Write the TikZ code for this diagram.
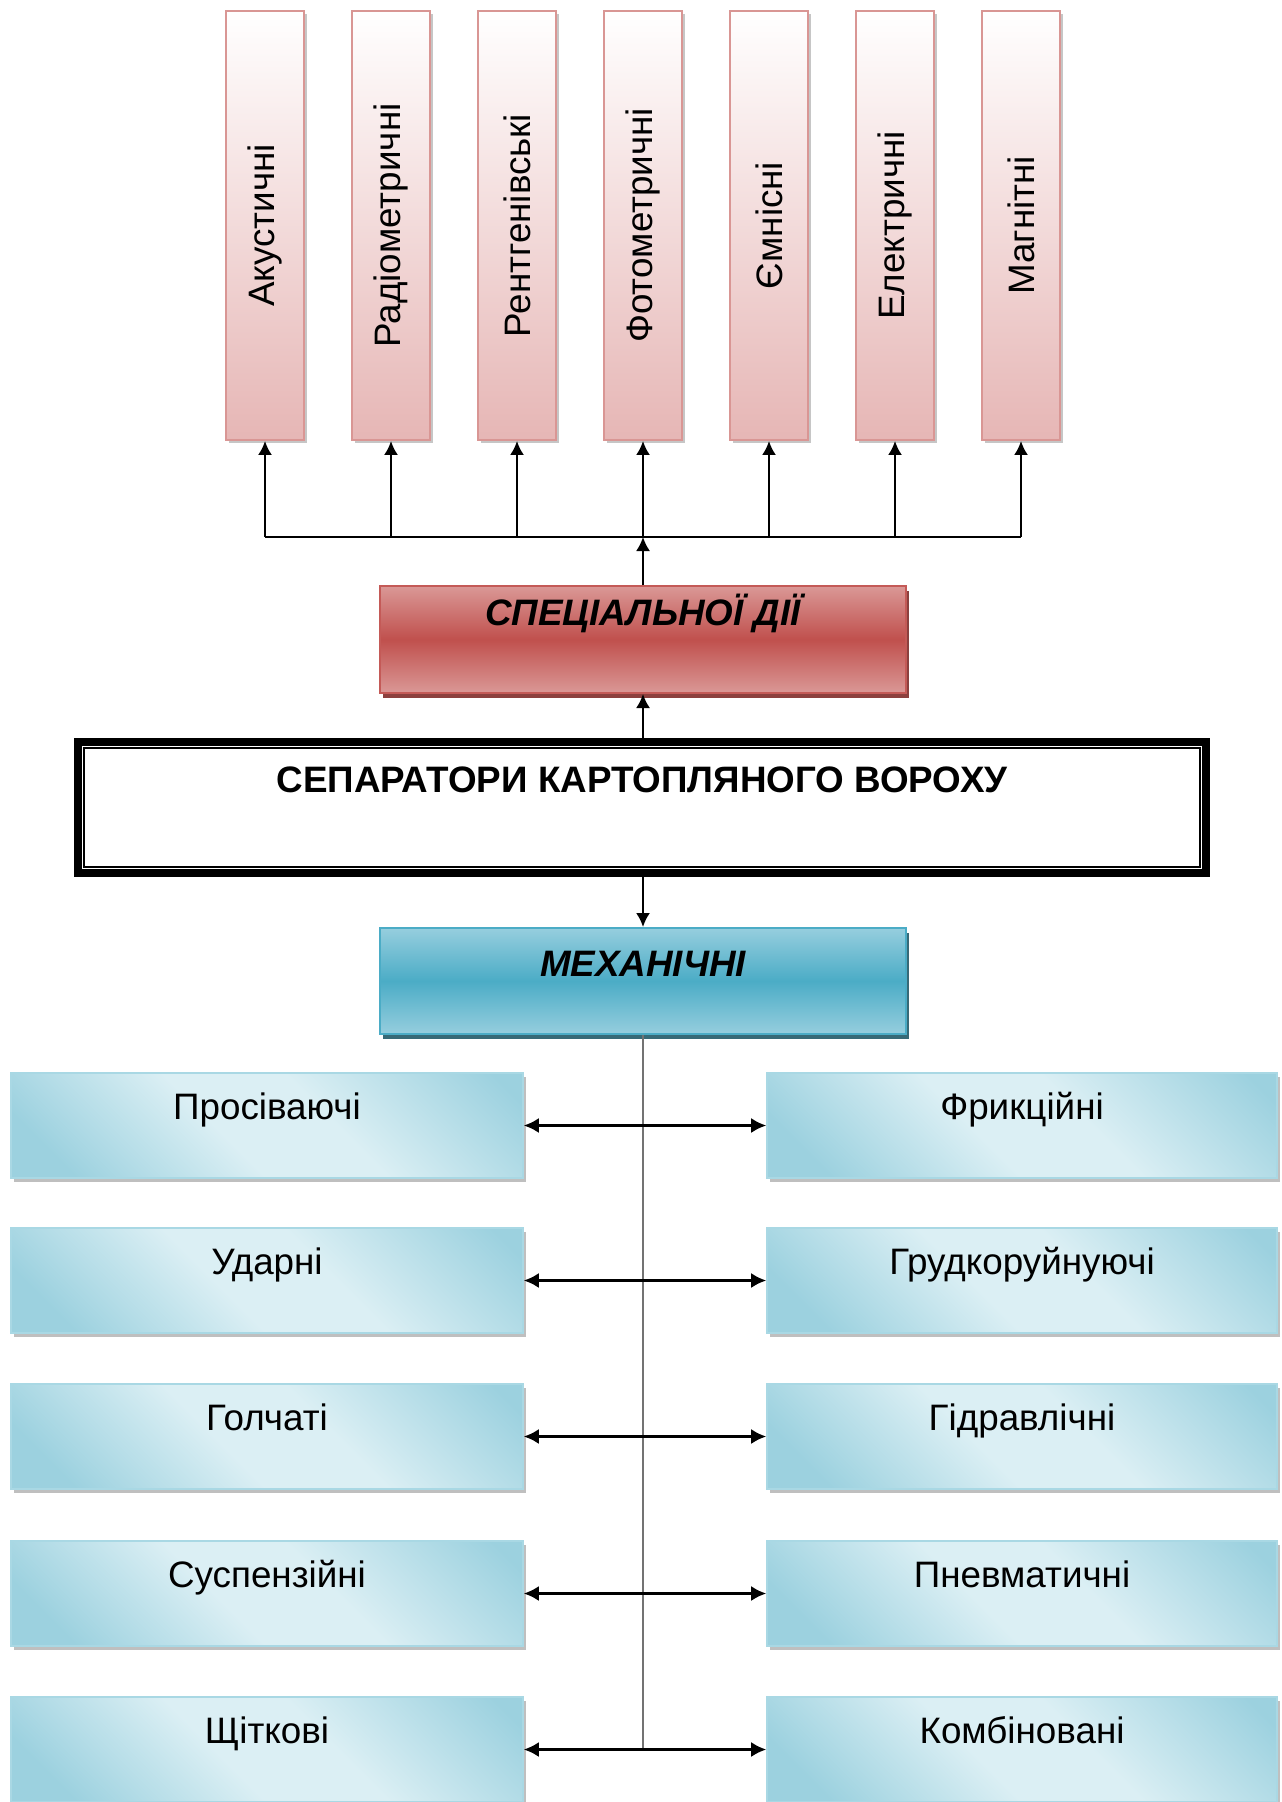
\documentclass[tikz,border=0pt]{standalone}
\usepackage{fontspec}
\setmainfont{Liberation Sans}
\usetikzlibrary{shadows,arrows.meta}
\definecolor{pinkbd}{HTML}{D99694}
\definecolor{pinkbot}{HTML}{E6B6B5}
\definecolor{redmid}{HTML}{C0504D}
\definecolor{redlt}{HTML}{DA9896}
\definecolor{redbd}{HTML}{C45A57}
\definecolor{redsh}{HTML}{7F2B29}
\definecolor{bluemid}{HTML}{4BACC6}
\definecolor{bluelt}{HTML}{96CEDE}
\definecolor{bluebd}{HTML}{4BACC6}
\definecolor{bluesh}{HTML}{215A68}
\definecolor{bdark}{HTML}{9CD1DF}
\definecolor{blight}{HTML}{DBEFF4}
\definecolor{bbd}{HTML}{A9D8E4}
\pgfdeclarehorizontalshading{bluediag}{100bp}{color(0bp)=(bdark); color(22bp)=(bdark); color(44bp)=(blight); color(58bp)=(blight); color(82bp)=(bdark); color(100bp)=(bdark)}
\tikzset{
  every node/.style={font=\fontsize{18.4}{22}\selectfont, inner sep=0pt},
  topbox/.style={draw=pinkbd, line width=1pt, top color=white, bottom color=pinkbot,
    minimum width=39pt, minimum height=214.5pt,
    drop shadow={shadow xshift=1.5pt, shadow yshift=-1.5pt, fill=gray, opacity=0.45}},
  specbox/.style={draw=redbd, line width=1pt, top color=redlt, bottom color=redlt, middle color=redmid,
    minimum width=263pt, text height=19.5pt, text depth=34pt,
    font=\fontsize{18.4}{22}\selectfont\bfseries\itshape,
    drop shadow={shadow xshift=1.5pt, shadow yshift=-2.5pt, fill=redsh, opacity=0.9}},
  mechbox/.style={draw=bluebd, line width=1pt, top color=bluelt, bottom color=bluelt, middle color=bluemid,
    minimum width=263pt, text height=24pt, text depth=29pt,
    font=\fontsize{18.4}{22}\selectfont\bfseries\itshape,
    drop shadow={shadow xshift=1.5pt, shadow yshift=-2.5pt, fill=bluesh, opacity=0.9}},
  mainbox/.style={draw=black, line width=4.2pt, fill=white,
    minimum width=564pt, text height=25pt, text depth=40.5pt,
    font=\fontsize{18.4}{22}\selectfont\bfseries},
  lowbox/.style={draw=bbd, line width=0.8pt, shading=bluediag, shading angle=45,
    text height=23pt, text depth=29.5pt,
    drop shadow={shadow xshift=1.5pt, shadow yshift=-2pt, fill=gray, opacity=0.5}},
  arr/.style={line width=1pt, -{Latex[length=7pt,width=7pt]}},
  harr/.style={line width=1.2pt, {Latex[length=7.5pt,width=7.5pt]}-{Latex[length=7.5pt,width=7.5pt]}},
  trunk/.style={line width=1pt, draw=gray!90!black},
}
\begin{document}
\begin{tikzpicture}[x=0.5pt,y=-0.5pt]
\useasboundingbox (0,0) rectangle (1281,1802);
% top boxes
\node[topbox] (t1) at (265,225.5) {\rotatebox{90}{Акустичні}};
\node[topbox] (t2) at (391,225.5) {\rotatebox{90}{Радіометричні}};
\node[topbox] (t3) at (517,225.5) {\rotatebox{90}{Рентгенівські}};
\node[topbox] (t4) at (643,225.5) {\rotatebox{90}{Фотометричні}};
\node[topbox] (t5) at (769,225.5) {\rotatebox{90}{Ємнісні}};
\node[topbox] (t6) at (895,225.5) {\rotatebox{90}{Електричні}};
\node[topbox] (t7) at (1021,225.5) {\rotatebox{90}{Магнітні}};
% middle boxes
\node[specbox] (spec) at (643,639.5) {СПЕЦІАЛЬНОЇ ДІЇ};
\node[mainbox] (main) at (642,807.5) {СЕПАРАТОРИ КАРТОПЛЯНОГО ВОРОХУ};
\draw[line width=1.1pt] ([xshift=5pt,yshift=-5pt]main.north west) rectangle ([xshift=-5pt,yshift=5pt]main.south east);
\node[mechbox] (mech) at (643,981) {МЕХАНІЧНІ};
% lower boxes
\node[lowbox, minimum width=256pt] (l1) at (267,1125.5) {Просіваючі};
\node[lowbox, minimum width=256pt] (l2) at (267,1280.5) {Ударні};
\node[lowbox, minimum width=256pt] (l3) at (267,1436.5) {Голчаті};
\node[lowbox, minimum width=256pt] (l4) at (267,1593.5) {Суспензійні};
\node[lowbox, minimum width=256pt] (l5) at (267,1749.5) {Щіткові};
\node[lowbox, minimum width=255pt] (r1) at (1022,1125.5) {Фрикційні};
\node[lowbox, minimum width=255pt] (r2) at (1022,1280.5) {Грудкоруйнуючі};
\node[lowbox, minimum width=255pt] (r3) at (1022,1436.5) {Гідравлічні};
\node[lowbox, minimum width=255pt] (r4) at (1022,1593.5) {Пневматичні};
\node[lowbox, minimum width=255pt] (r5) at (1022,1749.5) {Комбіновані};
% connectors top
\coordinate (bus) at (643,537);
\draw[line width=1pt] (t1.south |- bus) -- (t7.south |- bus);
\foreach \i in {1,...,7} { \draw[arr] (t\i.south |- bus) -- (t\i.south); }
\draw[arr] (spec.north) -- (bus);
\draw[arr] (spec.south |- main.north) -- (spec.south);
\draw[arr] (mech.north |- main.south) -- (mech.north);
% trunk and branches
\draw[trunk] (mech.south) -- (mech.south |- l5.east);
\foreach \i in {1,...,5} { \draw[harr] (l\i.east) -- (r\i.west); }
\end{tikzpicture}
\end{document}
